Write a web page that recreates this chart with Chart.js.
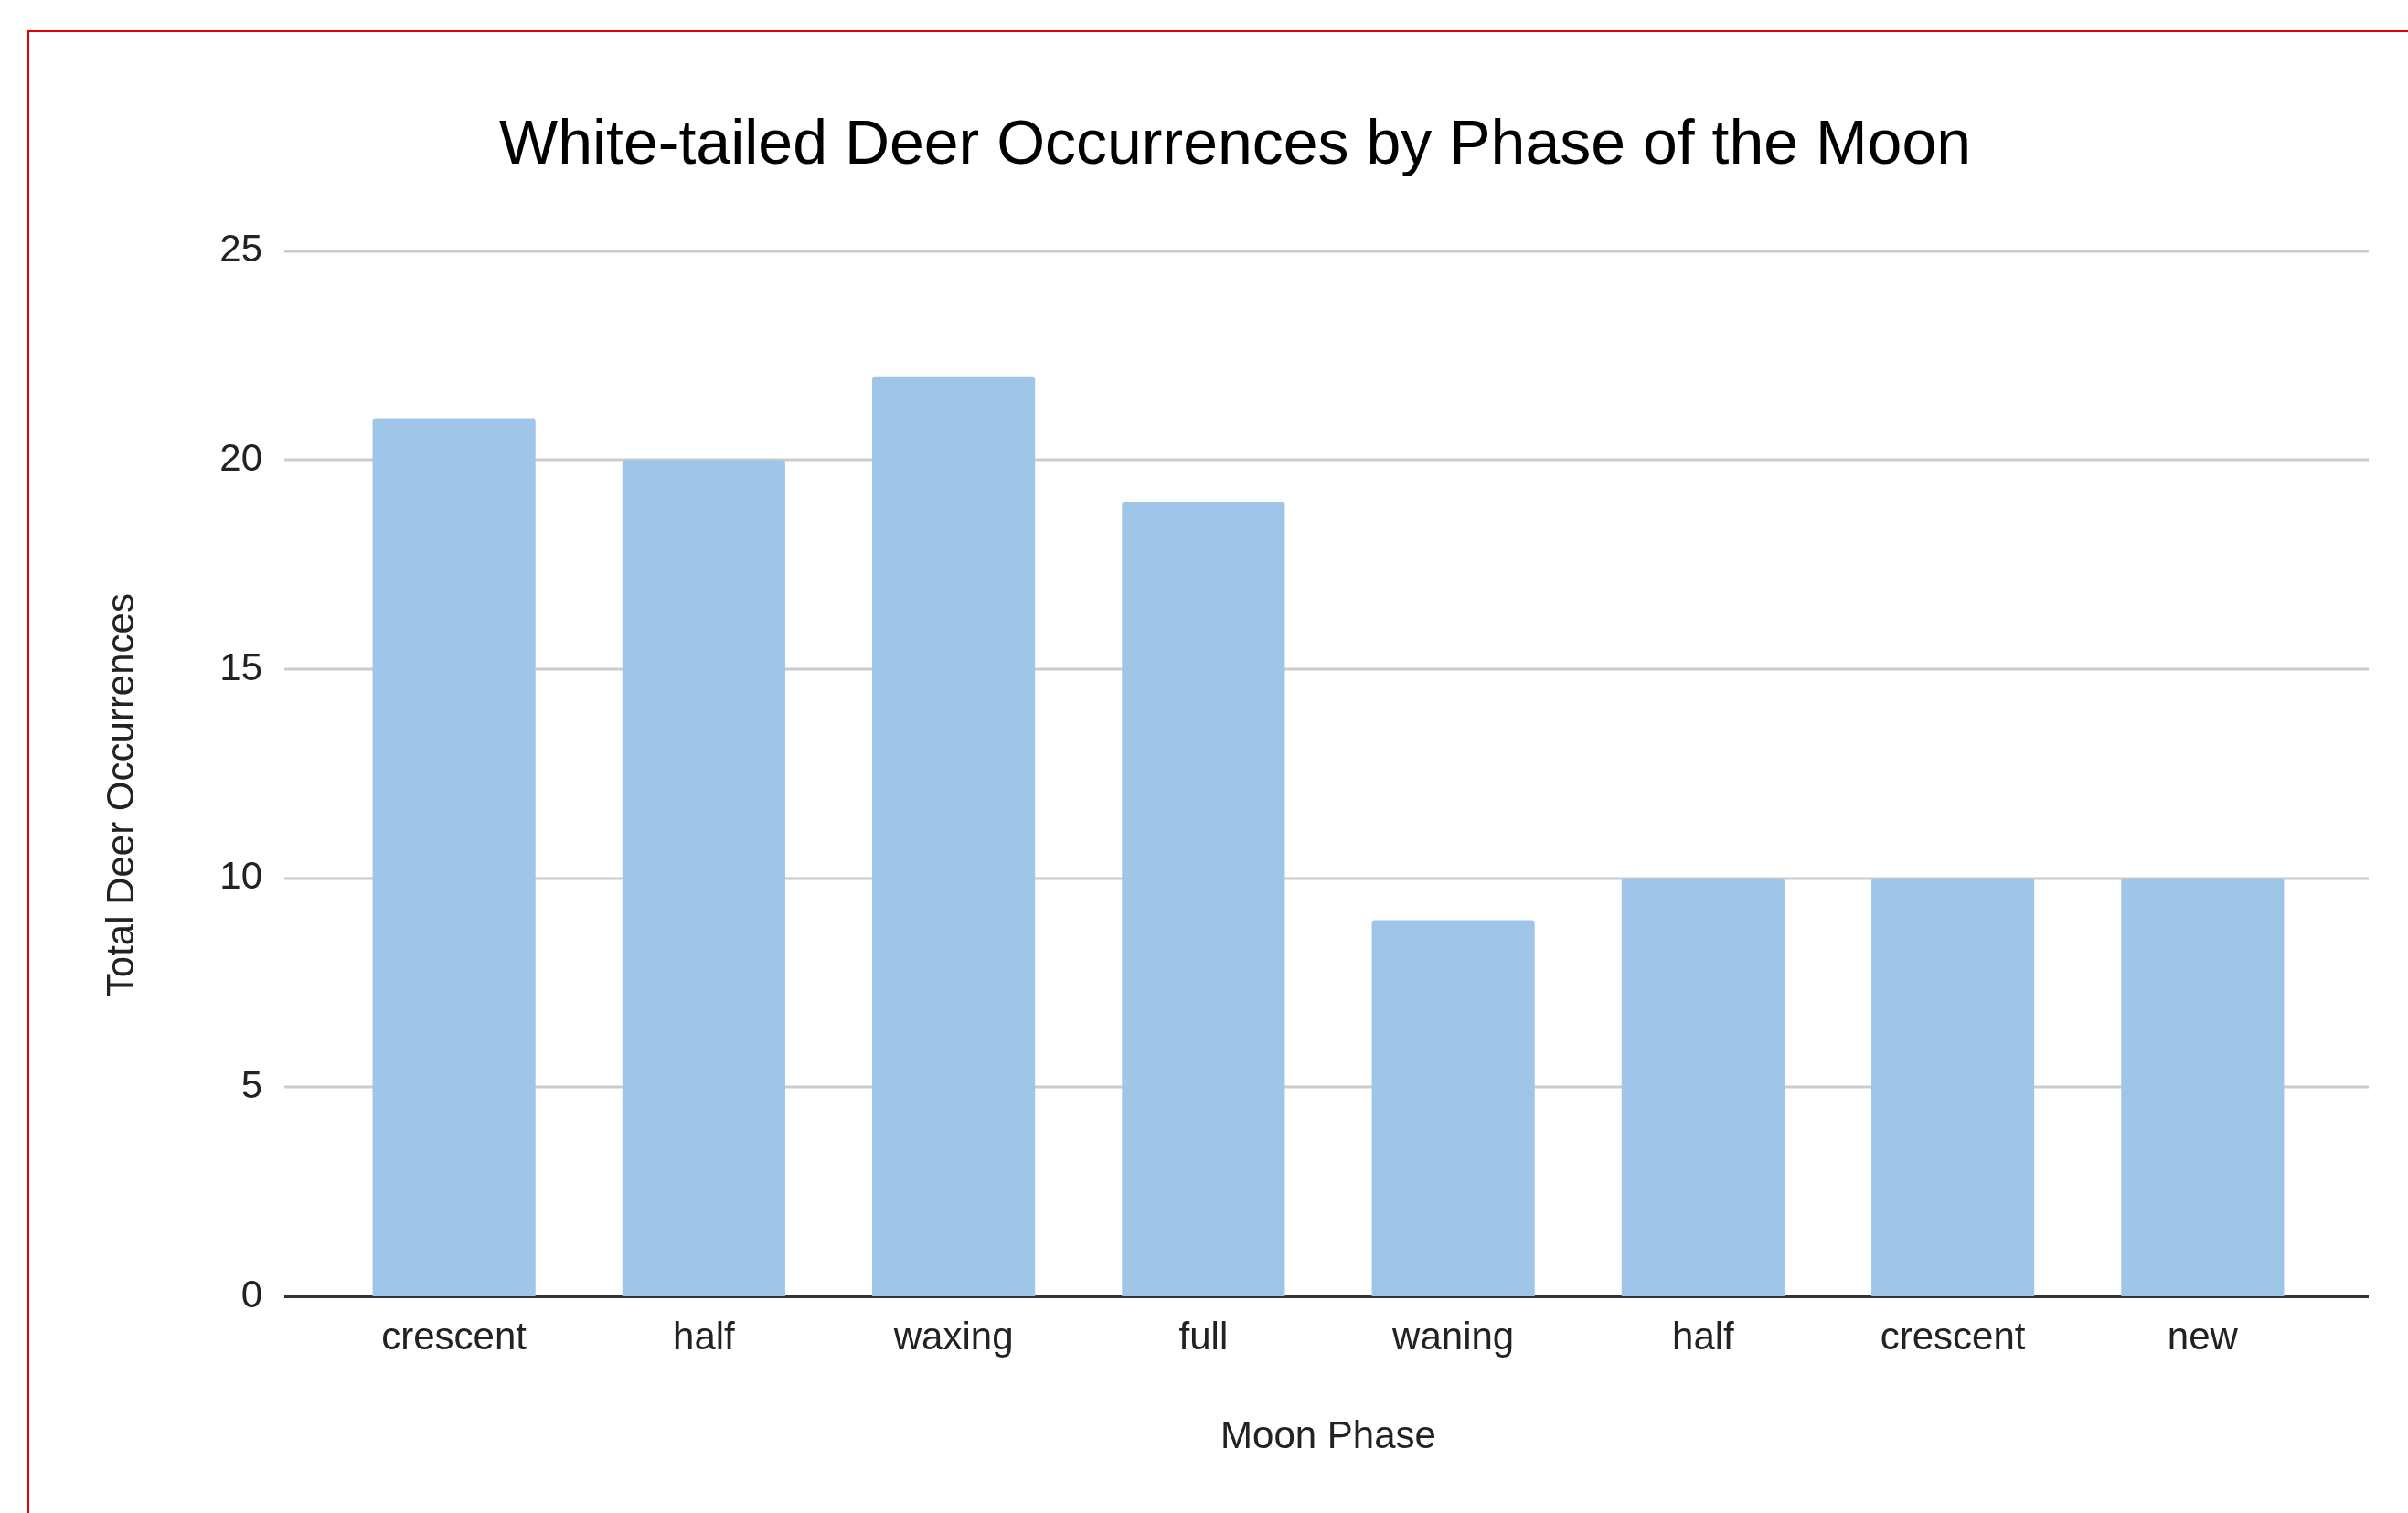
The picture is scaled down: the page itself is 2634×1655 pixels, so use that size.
<!DOCTYPE html>
<html>
<head>
<meta charset="utf-8">
<title>White-tailed Deer Occurrences by Phase of the Moon</title>
<script src="https://cdn.jsdelivr.net/npm/chart.js@4.4.1/dist/chart.umd.min.js"></script>
<style>
    html, body { margin: 0; padding: 0; background: #fff; overflow: hidden; }
    #frame {
        position: absolute; left: 30px; top: 33px;
        width: 3000px; height: 3000px;
        border-left: 2px solid #e60000; border-top: 2px solid #e60000;
    }
    #wrap { position: absolute; left: 0; top: 0; width: 2702px; height: 1655px; }
</style>
</head>
<body>
<div id="frame"></div>
<div id="wrap"><canvas id="deerChart"></canvas></div>
<script>
// Chart data
const phaseLabels = ['crescent', 'half', 'waxing', 'full', 'waning', 'half', 'crescent', 'new'];
const deerCounts = [21, 20, 22, 19, 9, 10, 10, 10];
const yTicks = [0, 5, 10, 15, 20, 25];

const FONT = '"Liberation Sans", Arial, sans-serif';

// Gridlines in the original run a bit past the first and last bar slots
const gridLinesPlugin = {
    id: 'gridLines',
    beforeDatasetsDraw(chart) {
        const ctx = chart.ctx;
        const area = chart.chartArea;
        const yScale = chart.scales.y;
        ctx.save();
        yScale.ticks.forEach(tick => {
            const y = Math.round(yScale.getPixelForValue(tick.value));
            ctx.beginPath();
            ctx.strokeStyle = tick.value === 0 ? '#333333' : '#cccccc';
            ctx.lineWidth = tick.value === 0 ? 4 : 3;
            ctx.moveTo(area.left - 49, y);
            ctx.lineTo(area.right + 45, y);
            ctx.stroke();
        });
        ctx.restore();
    }
};

const ctx = document.getElementById('deerChart').getContext('2d');
new Chart(ctx, {
    type: 'bar',
    data: {
        labels: phaseLabels,
        datasets: [{
            label: 'Total Deer Occurrences',
            data: deerCounts,
            backgroundColor: '#9fc5e8',
            borderWidth: 0,
            borderRadius: { topLeft: 3, topRight: 3 },
            borderSkipped: 'start',
            barPercentage: 0.652,
            categoryPercentage: 1.0
        }]
    },
    options: {
        responsive: true,
        maintainAspectRatio: false,
        animation: false,
        devicePixelRatio: 1,
        // left/right padding keep the title centred where the original has it
        layout: { padding: { left: 156, right: 156, top: 0, bottom: 0 } },
        plugins: {
            legend: { display: false },
            tooltip: { enabled: false },
            title: {
                display: true,
                text: 'White-tailed Deer Occurrences by Phase of the Moon',
                color: '#000',
                font: { family: FONT, size: 68, weight: 'normal', lineHeight: 1.2 },
                padding: { top: 119, bottom: 74 }
            }
        },
        scales: {
            x: {
                grid: { display: false, drawTicks: false },
                border: { display: false },
                ticks: {
                    color: '#222',
                    padding: 21,
                    font: { family: FONT, size: 42 }
                },
                title: {
                    display: true,
                    text: 'Moon Phase',
                    color: '#222',
                    font: { family: FONT, size: 42, lineHeight: 1.2 },
                    padding: { top: 0, bottom: 57 }
                },
                afterFit(scale) { scale.height = 237; }
            },
            y: {
                min: 0,
                max: 25,
                grid: { display: false, drawTicks: false },
                border: { display: false },
                afterBuildTicks(scale) {
                    scale.ticks = yTicks.map(v => ({ value: v }));
                },
                ticks: {
                    color: '#222',
                    padding: 73,
                    font: { family: FONT, size: 42 }
                },
                title: {
                    display: true,
                    // trailing spaces nudge the rotated title down a little
                    text: 'Total Deer Occurrences\u00a0\u00a0\u00a0\u00a0',
                    color: '#222',
                    font: { family: FONT, size: 42, lineHeight: 1.2 },
                    padding: { top: -47, bottom: 0 }
                },
                afterFit(scale) { scale.width = 204; }
            }
        }
    },
    plugins: [gridLinesPlugin]
});
</script>
</body>
</html>
